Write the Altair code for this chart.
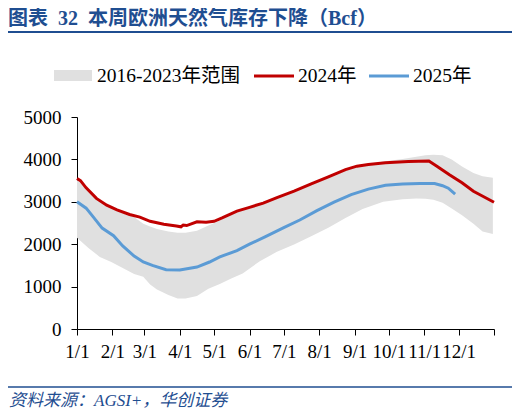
import altair as alt
import pandas as pd

# ---------------- data ----------------
month_days = [0, 31, 59, 90, 120, 151, 181, 212, 243, 273, 304, 334, 365]
month_labels = ["1/1", "2/1", "3/1", "4/1", "5/1", "6/1", "7/1", "8/1", "9/1",
                "10/1", "11/1", "12/1", ""]
y_ticks = [0, 1000, 2000, 3000, 4000, 5000]

band_days = [0, 10, 20, 30, 40, 50, 58, 64, 70, 80, 88, 95, 105, 115, 125, 135,
             145, 160, 175, 190, 205, 220, 235, 250, 268, 285, 297, 305, 312,
             320, 328, 337, 347, 355, 364]
band_upper = [3520, 3260, 3010, 2850, 2740, 2640, 2480, 2420, 2360, 2300, 2270,
              2270, 2320, 2440, 2560, 2700, 2800, 2930, 3080, 3230, 3400, 3570,
              3740, 3860, 3950, 4010, 4060, 4100, 4110, 4100, 4000, 3830, 3680,
              3600, 3570]
band_lower = [2150, 1910, 1700, 1580, 1440, 1300, 1230, 1050, 930, 800, 720, 720,
              780, 950, 1060, 1190, 1310, 1600, 1820, 1990, 2190, 2390, 2620,
              2830, 3000, 3060, 3080, 3070, 3050, 2980, 2840, 2680, 2480, 2300,
              2240]

days_2024 = [0, 3, 8, 17, 26, 35, 46, 55, 64, 76, 87, 91, 93, 96, 105, 113, 120,
             127, 140, 151, 163, 175, 190, 205, 220, 235, 245, 255, 270, 290,
             308, 315, 326, 337, 347, 356, 365]
vals_2024 = [3550, 3500, 3330, 3080, 2920, 2810, 2700, 2640, 2540, 2470, 2430,
             2410, 2450, 2440, 2530, 2520, 2540, 2620, 2780, 2870, 2970, 3100,
             3250, 3420, 3590, 3760, 3840, 3880, 3920, 3950, 3960, 3840, 3640,
             3450, 3250, 3120, 2990]

days_2025 = [0, 8, 14, 22, 32, 40, 50, 58, 66, 78, 90, 105, 116, 125, 140, 151,
             165, 181, 195, 210, 225, 240, 255, 270, 285, 300, 313, 320, 325, 331]
vals_2025 = [3000, 2850, 2650, 2380, 2200, 1960, 1720, 1580, 1500, 1400, 1390,
             1460, 1580, 1700, 1850, 2000, 2180, 2390, 2570, 2790, 2990, 3170,
             3300, 3390, 3420, 3430, 3430, 3380, 3320, 3180]

legend_labels = ["2016-2023年范围", "2024年", "2025年"]
title_text = "图表\u200232\u2002本周欧洲天然气库存下降（Bcf）"
source_text = "资料来源：AGSI+，华创证券"

# ---------------- styles ----------------
NAVY = "#1F4E91"
RED = "#C00000"
BLUE = "#5B9BD5"
GRAY = "#E0E0E0"
SERIF = "Liberation Serif, 'Noto Sans CJK SC'"
W, H = 417, 212

band_df = pd.DataFrame({"day": band_days, "upper": band_upper, "lower": band_lower})
df24 = pd.DataFrame({"day": days_2024, "v": vals_2024})
df25 = pd.DataFrame({"day": days_2025, "v": vals_2025})
one = pd.DataFrame({"k": [0]})

label_expr = ("[" + ",".join("'%s'" % s for s in month_labels) + "][indexof(["
              + ",".join(str(d) for d in month_days) + "], datum.value)]")

xs = alt.Scale(domain=[0, 365], nice=False, zero=False)
ys = alt.Scale(domain=[0, 5000], nice=False)

x_axis = alt.Axis(values=month_days, labelExpr=label_expr, title=None, grid=False,
                  tickSize=6, labelPadding=7, labelFont=SERIF, labelFontSize=19,
                  labelColor="black", domainColor="black", tickColor="black",
                  labelFlush=False, labelOverlap=False, labelBound=False)
y_axis = alt.Axis(values=y_ticks, format="d", title=None, grid=False, tickSize=6,
                  labelPadding=10, labelFont=SERIF, labelFontSize=19,
                  labelColor="black", domainColor="black", tickColor="black",
                  labelOverlap=False)

X = alt.X("day:Q", scale=xs, axis=x_axis)

band = alt.Chart(band_df).mark_area(color=GRAY, opacity=1).encode(
    x=X, y=alt.Y("lower:Q", scale=ys, axis=y_axis), y2="upper:Q")
line24 = alt.Chart(df24).mark_line(color=RED, strokeWidth=3).encode(
    x=X, y=alt.Y("v:Q", scale=ys, axis=y_axis))
line25 = alt.Chart(df25).mark_line(color=BLUE, strokeWidth=3).encode(
    x=X, y=alt.Y("v:Q", scale=ys, axis=y_axis))

title = alt.Chart(one).mark_text(align="left", baseline="middle", font=SERIF,
                                 fontSize=20, fontWeight="bold", color=NAVY).encode(
    x=alt.value(-69), y=alt.value(-98), text=alt.value(title_text))
rule_top = alt.Chart(one).mark_rule(color=NAVY, strokeWidth=2.2).encode(
    x=alt.value(-69), x2=alt.value(435), y=alt.value(-85))
rule_bot = alt.Chart(one).mark_rule(color=NAVY, strokeWidth=1.5).encode(
    x=alt.value(-69), x2=alt.value(435), y=alt.value(270))
source = alt.Chart(one).mark_text(align="left", baseline="middle", font=SERIF,
                                  fontSize=17, fontStyle="italic", color=NAVY).encode(
    x=alt.value(-68), y=alt.value(284), text=alt.value(source_text))

leg_rect = alt.Chart(one).mark_rect(color=GRAY).encode(
    x=alt.value(-23), x2=alt.value(15), y=alt.value(-47), y2=alt.value(-36))
leg_t1 = alt.Chart(one).mark_text(align="left", baseline="middle", font=SERIF,
                                  fontSize=19.5, color="black").encode(
    x=alt.value(20), y=alt.value(-41), text=alt.value(legend_labels[0]))
leg_r2 = alt.Chart(one).mark_rule(color=RED, strokeWidth=3).encode(
    x=alt.value(177), x2=alt.value(217), y=alt.value(-41))
leg_t2 = alt.Chart(one).mark_text(align="left", baseline="middle", font=SERIF,
                                  fontSize=19.5, color="black").encode(
    x=alt.value(221), y=alt.value(-41), text=alt.value(legend_labels[1]))
leg_r3 = alt.Chart(one).mark_rule(color=BLUE, strokeWidth=3).encode(
    x=alt.value(292), x2=alt.value(332), y=alt.value(-41))
leg_t3 = alt.Chart(one).mark_text(align="left", baseline="middle", font=SERIF,
                                  fontSize=19.5, color="black").encode(
    x=alt.value(336), y=alt.value(-41), text=alt.value(legend_labels[2]))

chart = alt.layer(
    band, line24, line25, title, rule_top, rule_bot, source,
    leg_rect, leg_t1, leg_r2, leg_t2, leg_r3, leg_t3
).properties(
    width=W, height=H, autosize="none",
    padding={"left": 69, "top": 109, "right": 18, "bottom": 81},
    background="white",
).configure_view(stroke=None)

chart.save("out.html", embed_options={"renderer": "svg", "actions": False})
